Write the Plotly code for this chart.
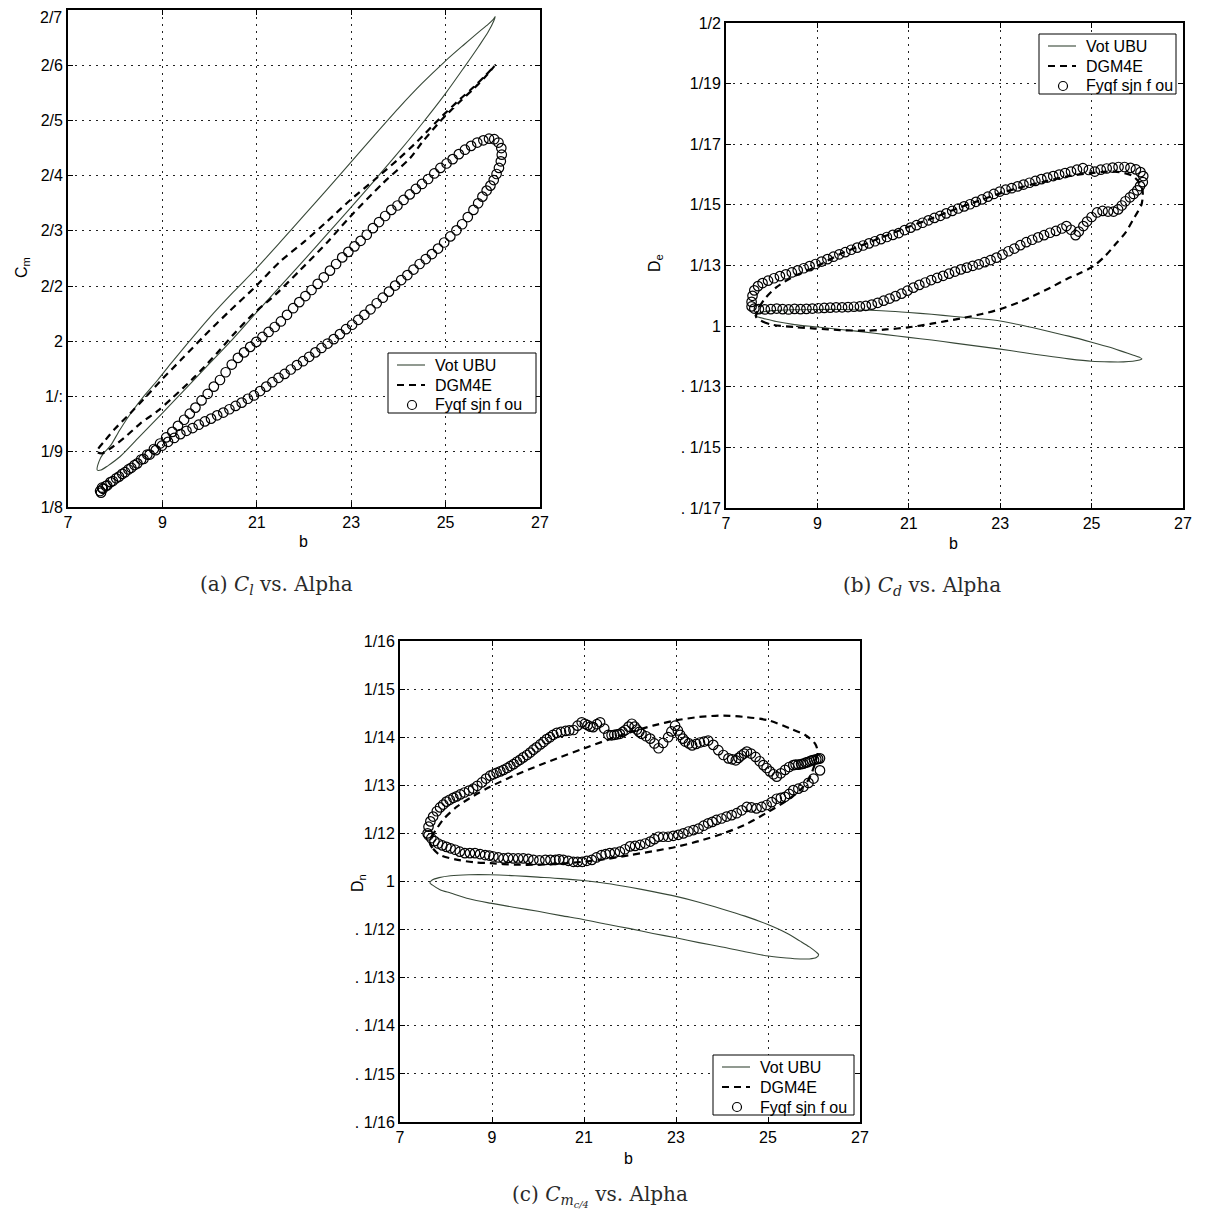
import plotly.graph_objects as go

W, H = 1205, 1221          # page (browser window) size in pixels
BODY = 8                   # default page margin around the figure
FW, FH = W - 2 * BODY, H - 2 * BODY

# ---------------- tick labels (as printed on the figure) ----------------
x_tickvals = [6, 8, 10, 12, 14, 16]
x_ticktext = ["7", "9", "21", "23", "25", "27"]

a_ytickvals = [0.7, 0.8, 0.9, 1.0, 1.1, 1.2, 1.3, 1.4, 1.5, 1.6]
a_yticktext = ["1/8", "1/9", "1/:", "2", "2/2", "2/3", "2/4", "2/5", "2/6", "2/7"]

b_ytickvals = [-0.06, -0.04, -0.02, 0.0, 0.02, 0.04, 0.06, 0.08, 0.10]
b_yticktext = [". 1/17", ". 1/15", ". 1/13", "1", "1/13", "1/15", "1/17", "1/19", "1/2"]

c_ytickvals = [-0.05, -0.04, -0.03, -0.02, -0.01, 0.0, 0.01, 0.02, 0.03, 0.04, 0.05]
c_yticktext = [". 1/16", ". 1/15", ". 1/14", ". 1/13", ". 1/12", "1",
               "1/12", "1/13", "1/14", "1/15", "1/16"]

series_names = ["Vot UBU", "DGM4E", "Fyqf sjn f ou"]
captions = ["(a) <i>C<sub>l</sub></i> vs. Alpha",
            "(b) <i>C<sub>d</sub></i> vs. Alpha",
            "(c) <i>C<sub>m<sub>c/4</sub></sub></i> vs. Alpha"]
x_title = "b"
y_titles = ["C<sub>m</sub>", "D<sub>e</sub>", "D<sub>n</sub>"]

# ---------------- panel (a) ----------------
a_theory_alpha = [6.62, 6.66, 6.75, 6.90, 7.10, 7.35, 7.60, 7.90, 8.20, 8.55, 9.00, 9.50, 10.0, 10.5,
                  11.0, 11.5, 12.0, 12.5, 13.0, 13.5, 14.0, 14.4, 14.7, 14.9, 15.0, 15.05,
                  15.02, 14.9, 14.7, 14.4, 14.0, 13.5, 13.0, 12.5, 12.0, 11.5, 11.0, 10.5, 10.0,
                  9.5, 9.0, 8.5, 8.0, 7.5, 7.1, 6.85, 6.7, 6.62]
a_theory_cl = [0.767, 0.783, 0.797, 0.811, 0.840, 0.872, 0.900, 0.930, 0.962, 0.998, 1.043, 1.089, 1.133, 1.180,
               1.228, 1.276, 1.325, 1.374, 1.422, 1.467, 1.508, 1.538, 1.560, 1.574, 1.582, 1.588,
               1.580, 1.560, 1.534, 1.497, 1.449, 1.394, 1.342, 1.292, 1.243, 1.195, 1.147, 1.100, 1.053,
               1.005, 0.960, 0.915, 0.870, 0.826, 0.791, 0.775, 0.767, 0.767]

a_cfd_alpha = [6.61, 6.8, 7.0, 7.3, 7.6, 8.0, 8.4, 8.9, 9.4, 9.96, 10.5, 11.0, 11.5, 11.97, 12.5, 13.0,
               13.4, 13.88, 14.3, 14.59, 14.85, 15.05,
               14.85, 14.59, 14.3, 13.88, 13.5, 13.25, 12.68, 11.97, 11.5, 10.92, 10.4, 9.93, 9.5, 9.15,
               8.7, 8.23, 7.9, 7.53, 7.2, 6.9, 6.72, 6.61]
a_cfd_cl = [0.800, 0.822, 0.842, 0.868, 0.895, 0.932, 0.967, 1.011, 1.053, 1.098, 1.145, 1.180, 1.218, 1.255, 1.293, 1.330,
            1.362, 1.404, 1.438, 1.460, 1.482, 1.500,
            1.480, 1.457, 1.434, 1.398, 1.360, 1.332, 1.287, 1.225, 1.180, 1.129, 1.085, 1.050, 1.012, 0.978,
            0.937, 0.899, 0.874, 0.851, 0.826, 0.806, 0.797, 0.800]

a_exp_alpha_up = [6.68, 6.72, 6.80, 6.90, 7.02, 7.15, 7.28, 7.41, 7.55, 7.68, 7.82, 7.95, 8.08, 8.21, 8.33,
                  8.46, 8.58, 8.70, 8.83, 8.96, 9.09, 9.22, 9.34, 9.47, 9.60, 9.73, 9.86, 9.99, 10.12, 10.25,
                  10.38, 10.51, 10.64, 10.77, 10.90, 11.03, 11.16, 11.29, 11.42, 11.55, 11.68, 11.81, 11.94,
                  12.07, 12.20, 12.33, 12.46, 12.59, 12.72, 12.85, 12.98, 13.11, 13.24, 13.37, 13.50, 13.63,
                  13.76, 13.89, 14.02, 14.15, 14.28, 14.41, 14.54, 14.67, 14.80, 14.92, 15.03, 15.12, 15.18]
a_exp_cl_up = [0.729, 0.735, 0.738, 0.745, 0.752, 0.760, 0.768, 0.776, 0.786, 0.795, 0.805, 0.815, 0.826, 0.836, 0.847,
               0.858, 0.869, 0.880, 0.893, 0.905, 0.918, 0.930, 0.944, 0.958, 0.970, 0.980, 0.990, 0.999, 1.008, 1.017,
               1.026, 1.036, 1.048, 1.060, 1.071, 1.082, 1.093, 1.104, 1.116, 1.128, 1.140, 1.152, 1.162,
               1.172, 1.182, 1.193, 1.205, 1.216, 1.227, 1.238, 1.246, 1.256, 1.266, 1.276, 1.285, 1.294,
               1.304, 1.314, 1.322, 1.330, 1.339, 1.347, 1.354, 1.360, 1.364, 1.367, 1.366, 1.360, 1.350]
a_exp_alpha_down = [15.19, 15.17, 15.13, 15.08, 15.02, 14.95, 14.87, 14.78, 14.69, 14.59, 14.47, 14.35, 14.23,
                    14.10, 13.97, 13.84, 13.71, 13.58, 13.45, 13.32, 13.19, 13.06, 12.93, 12.80, 12.67, 12.54,
                    12.41, 12.28, 12.15, 12.02, 11.89, 11.76, 11.63, 11.50, 11.37, 11.24, 11.11, 10.98, 10.85,
                    10.72, 10.59, 10.46, 10.33, 10.20, 10.07, 9.94, 9.81, 9.68, 9.55, 9.42, 9.29, 9.16, 9.03,
                    8.90, 8.77, 8.64, 8.51, 8.38, 8.25, 8.12, 7.99, 7.86, 7.73, 7.60, 7.47, 7.34, 7.21, 7.08,
                    6.95, 6.83, 6.74, 6.70]
a_exp_cl_down = [1.338, 1.326, 1.314, 1.303, 1.292, 1.282, 1.273, 1.262, 1.250, 1.238, 1.225, 1.212, 1.201,
                 1.190, 1.179, 1.168, 1.158, 1.149, 1.140, 1.130, 1.120, 1.111, 1.101, 1.090, 1.079, 1.069,
                 1.058, 1.048, 1.039, 1.030, 1.022, 1.013, 1.004, 0.996, 0.988, 0.980, 0.972, 0.964, 0.957,
                 0.949, 0.941, 0.934, 0.926, 0.918, 0.910, 0.902, 0.896, 0.889, 0.883, 0.877, 0.871, 0.866, 0.860,
                 0.855, 0.849, 0.843, 0.838, 0.832, 0.825, 0.818, 0.811, 0.803, 0.795, 0.787, 0.779, 0.771, 0.763, 0.755,
                 0.747, 0.739, 0.733, 0.726]

# ---------------- panel (b) ----------------
b_theory_alpha = [6.63, 6.75, 7.0, 7.5, 8.0, 8.5, 9.0, 9.5, 10.0, 10.5, 11.0, 11.5, 12.0, 12.5, 13.0, 13.5,
                  14.0, 14.4, 14.7, 14.9, 15.05, 15.1,
                  15.05, 14.9, 14.7, 14.4, 14.0, 13.5, 13.0, 12.5, 12.0, 11.5, 11.0, 10.5, 10.0, 9.5, 9.0,
                  8.5, 8.0, 7.5, 7.1, 6.85, 6.7, 6.63]
b_theory_cd = [0.0034, 0.0045, 0.0051, 0.0054, 0.0055, 0.0055, 0.0053, 0.0050, 0.0045, 0.0039, 0.0032, 0.0025,
               0.0017, 0.0002, -0.0015, -0.0033, -0.0053, -0.0070, -0.0085, -0.0095, -0.0103, -0.0108,
               -0.0112, -0.0116, -0.0118, -0.0118, -0.0116, -0.0108, -0.0098, -0.0087, -0.0076, -0.0066,
               -0.0056, -0.0046, -0.0037, -0.0028, -0.0019, -0.0011, -0.0003, 0.0005, 0.0015, 0.0024, 0.0030, 0.0034]

b_cfd_alpha = [6.66, 6.8, 7.0, 7.5, 7.95, 8.5, 9.08, 9.5, 9.99, 10.5, 11.12, 11.6, 12.0, 12.4, 12.73, 13.1,
               13.45, 13.75, 14.04, 14.3, 14.55, 14.75, 14.91, 15.02, 15.09, 15.12,
               15.1, 14.9, 14.5, 14.0, 13.5, 13.0, 12.5, 12.0, 11.5, 11.0, 10.5, 10.0, 9.5, 9.0, 8.5, 8.0,
               7.5, 7.1, 6.85, 6.7, 6.66]
b_cfd_cd = [0.0030, 0.0015, 0.0005, -0.0003, -0.0008, -0.0013, -0.0015, -0.0011, -0.0004, 0.0008, 0.0025,
            0.0040, 0.0056, 0.0078, 0.0100, 0.0127, 0.0155, 0.0175, 0.0198, 0.0232, 0.0275, 0.0310, 0.0352,
            0.0380, 0.0400, 0.0430,
            0.0460, 0.0495, 0.0510, 0.0505, 0.0495, 0.0478, 0.0460, 0.0438, 0.0412, 0.0385, 0.0355, 0.0328,
            0.0298, 0.0268, 0.0238, 0.0198, 0.0165, 0.0128, 0.0090, 0.0055, 0.0030]

b_exp_alpha_up = [6.56, 6.58, 6.62, 6.70, 6.80, 6.92, 7.05, 7.18, 7.31, 7.44, 7.57, 7.70, 7.83, 7.96, 8.09,
                  8.22, 8.35, 8.48, 8.61, 8.74, 8.87, 9.00, 9.13, 9.26, 9.39, 9.52, 9.65, 9.78, 9.91, 10.04,
                  10.17, 10.30, 10.43, 10.56, 10.69, 10.82, 10.95, 11.08, 11.21, 11.34, 11.47, 11.60, 11.73,
                  11.86, 11.99, 12.12, 12.25, 12.38, 12.51, 12.64, 12.77, 12.90, 13.03, 13.16, 13.29, 13.42,
                  13.55, 13.68, 13.81, 13.94, 14.07, 14.20, 14.33, 14.46, 14.59, 14.72, 14.85, 14.97, 15.07, 15.13]
b_exp_cd_up = [0.0080, 0.0100, 0.0118, 0.0132, 0.0142, 0.0150, 0.0158, 0.0165, 0.0171, 0.0177, 0.0184, 0.0191,
               0.0198, 0.0205, 0.0213, 0.0221, 0.0229, 0.0237, 0.0244, 0.0252, 0.0259, 0.0266, 0.0273, 0.0280,
               0.0287, 0.0294, 0.0301, 0.0307, 0.0317, 0.0325, 0.0333, 0.0341, 0.0349, 0.0357, 0.0364, 0.0372,
               0.0380, 0.0388, 0.0395, 0.0402, 0.0410, 0.0418, 0.0427, 0.0436, 0.0444, 0.0450, 0.0455, 0.0461,
               0.0467, 0.0473, 0.0479, 0.0485, 0.0490, 0.0495, 0.0500, 0.0505, 0.0510, 0.0516, 0.0521, 0.0515,
               0.0510, 0.0516, 0.0520, 0.0523, 0.0525, 0.0525, 0.0522, 0.0517, 0.0508, 0.0495]
b_exp_alpha_down = [15.12, 15.06, 15.00, 14.92, 14.84, 14.74, 14.66, 14.58, 14.48, 14.36, 14.24, 14.12, 14.00,
                    13.90, 13.82, 13.72, 13.65, 13.55, 13.45, 13.35, 13.22, 13.09, 12.96, 12.83, 12.70, 12.57,
                    12.44, 12.31, 12.18, 12.05, 11.92, 11.79, 11.66, 11.53, 11.40, 11.27, 11.14, 11.01, 10.88,
                    10.75, 10.62, 10.49, 10.36, 10.23, 10.10, 9.97, 9.84, 9.71, 9.58, 9.45, 9.32, 9.19, 9.06,
                    8.93, 8.80, 8.67, 8.54, 8.41, 8.28, 8.15, 8.02, 7.89, 7.76, 7.63, 7.50, 7.37, 7.24, 7.11,
                    6.98, 6.85, 6.72, 6.62, 6.56]
b_exp_cd_down = [0.0475, 0.0462, 0.0448, 0.0436, 0.0425, 0.0412, 0.0398, 0.0385, 0.0378, 0.0378, 0.0380, 0.0375,
                 0.0360, 0.0345, 0.0330, 0.0312, 0.0300, 0.0318, 0.0330, 0.0322, 0.0314, 0.0308, 0.0300, 0.0293,
                 0.0285, 0.0277, 0.0267, 0.0256, 0.0247, 0.0236, 0.0226, 0.0218, 0.0211, 0.0204, 0.0199, 0.0193,
                 0.0187, 0.0180, 0.0173, 0.0166, 0.0159, 0.0152, 0.0144, 0.0136, 0.0127, 0.0117, 0.0107, 0.0099,
                 0.0091, 0.0084, 0.0077, 0.0071, 0.0067, 0.0065, 0.0064, 0.0063, 0.0062, 0.0062, 0.0061, 0.0060,
                 0.0059, 0.0058, 0.0057, 0.0056, 0.0057, 0.0055, 0.0056, 0.0058, 0.0056, 0.0055, 0.0056, 0.0058, 0.0065]

# ---------------- panel (c) ----------------
c_theory_alpha = [6.65, 6.7, 6.85, 7.1, 7.5, 7.96, 8.5, 9.0, 9.5, 9.98, 10.5, 11.0, 11.5, 12.0, 12.5, 13.0,
                  13.5, 14.01, 14.4, 14.7, 14.9, 15.05, 15.1,
                  15.05, 14.9, 14.7, 14.4, 14.01, 13.5, 13.0, 12.5, 12.0, 11.5, 11.0, 10.5, 9.98, 9.5, 9.0,
                  8.5, 7.96, 7.5, 7.1, 6.87, 6.7, 6.65]
c_theory_cm = [-0.0003, 0.0003, 0.0008, 0.0012, 0.0014, 0.0014, 0.0012, 0.0009, 0.0006, 0.0002, -0.0004,
               -0.0012, -0.0021, -0.0031, -0.0043, -0.0057, -0.0072, -0.0090, -0.0107, -0.0124, -0.0136,
               -0.0147, -0.0152,
               -0.0158, -0.0161, -0.0161, -0.0159, -0.0155, -0.0146, -0.0136, -0.0127, -0.0117, -0.0108,
               -0.0098, -0.0089, -0.0079, -0.0071, -0.0062, -0.0054, -0.0045, -0.0036, -0.0024, -0.0017,
               -0.0007, -0.0003]

c_cfd_alpha = [6.65, 6.72, 6.87, 7.2, 7.6, 7.96, 8.5, 9.04, 9.5, 9.98, 10.5, 11.0, 11.5, 12.0, 12.5, 13.03,
               13.5, 14.01, 14.4, 14.7, 14.9, 15.02, 15.08, 15.02,
               14.8, 14.48, 14.01, 13.5, 13.03, 12.5, 12.0, 11.5, 11.0, 10.5, 9.98, 9.5, 9.04, 8.5, 7.96,
               7.6, 7.23, 6.95, 6.8, 6.68, 6.65]
c_cfd_cm = [0.0079, 0.0068, 0.0055, 0.0046, 0.0040, 0.0038, 0.0035, 0.0035, 0.0037, 0.0041, 0.0047, 0.0055,
            0.0063, 0.0072, 0.0084, 0.0100, 0.0118, 0.0145, 0.0168, 0.0190, 0.0215, 0.0245, 0.0270, 0.0287,
            0.0305, 0.0318, 0.0335, 0.0342, 0.0345, 0.0342, 0.0335, 0.0324, 0.0310, 0.0294, 0.0276, 0.0259,
            0.0242, 0.0221, 0.0197, 0.0178, 0.0155, 0.0130, 0.0110, 0.0092, 0.0079]

c_exp_alpha_up = [6.62, 6.66, 6.72, 6.80, 6.87, 6.94, 7.01, 7.08, 7.16, 7.23,
                  7.31, 7.40, 7.50, 7.59, 7.68, 7.78, 7.87, 7.96, 8.03, 8.10,
                  8.18, 8.25, 8.33, 8.40, 8.47, 8.54, 8.61, 8.68, 8.76, 8.83,
                  8.90, 8.97, 9.05, 9.12, 9.19, 9.26, 9.33, 9.41, 9.50, 9.60,
                  9.68, 9.77, 9.86, 9.95, 10.02, 10.08, 10.14, 10.20, 10.28, 10.35,
                  10.44, 10.53, 10.60, 10.66, 10.72, 10.78, 10.84, 10.90, 10.97, 11.04,
                  11.10, 11.15, 11.20, 11.25, 11.35, 11.44, 11.53, 11.62, 11.72, 11.83,
                  11.90, 11.98, 12.04, 12.09, 12.15, 12.20, 12.28, 12.35, 12.44, 12.52,
                  12.61, 12.70, 12.81, 12.92, 13.03, 13.14, 13.22, 13.30, 13.36, 13.42,
                  13.48, 13.54, 13.63, 13.73, 13.82, 13.90, 13.97, 14.04, 14.12, 14.19,
                  14.28, 14.37, 14.46, 14.55, 14.60, 14.66, 14.72, 14.77, 14.82, 14.86,
                  14.91, 14.95, 15.00, 15.05, 15.09, 15.13]
c_exp_cm_up = [0.0114, 0.0125, 0.0135, 0.0146, 0.0154, 0.0160, 0.0166, 0.0170, 0.0174, 0.0177,
               0.0181, 0.0185, 0.0189, 0.0193, 0.0199, 0.0206, 0.0214, 0.0220, 0.0223, 0.0226,
               0.0229, 0.0232, 0.0236, 0.0240, 0.0244, 0.0249, 0.0253, 0.0258, 0.0263, 0.0268,
               0.0274, 0.0279, 0.0285, 0.0290, 0.0296, 0.0300, 0.0305, 0.0309, 0.0311, 0.0313,
               0.0314, 0.0315, 0.0324, 0.0331, 0.0328, 0.0325, 0.0322, 0.0321, 0.0327, 0.0331,
               0.0318, 0.0305, 0.0304, 0.0305, 0.0306, 0.0307, 0.0311, 0.0315, 0.0322, 0.0328,
               0.0322, 0.0316, 0.0311, 0.0307, 0.0302, 0.0297, 0.0287, 0.0277, 0.0288, 0.0300,
               0.0312, 0.0324, 0.0314, 0.0305, 0.0297, 0.0291, 0.0287, 0.0283, 0.0286, 0.0289,
               0.0291, 0.0293, 0.0284, 0.0273, 0.0263, 0.0256, 0.0254, 0.0252, 0.0257, 0.0262,
               0.0266, 0.0270, 0.0266, 0.0259, 0.0250, 0.0242, 0.0236, 0.0229, 0.0223, 0.0218,
               0.0225, 0.0232, 0.0238, 0.0242, 0.0243, 0.0243, 0.0244, 0.0245, 0.0247, 0.0248,
               0.0250, 0.0252, 0.0253, 0.0254, 0.0255, 0.0256]
c_exp_alpha_down = [15.13, 14.99, 14.88, 14.77, 14.66, 14.55, 14.46, 14.37, 14.28, 14.19, 14.08, 13.97, 13.86,
                    13.75, 13.64, 13.54, 13.43, 13.32, 13.21, 13.10, 12.99, 12.88, 12.79, 12.70, 12.60, 12.49,
                    12.38, 12.27, 12.16, 12.05, 11.94, 11.83, 11.72, 11.62, 11.53, 11.44, 11.33, 11.22, 11.11,
                    11.00, 10.89, 10.78, 10.67, 10.56, 10.47, 10.38, 10.27, 10.17, 10.06, 9.96, 9.86, 9.77,
                    9.66, 9.55, 9.46, 9.38, 9.27, 9.16, 9.03, 8.90, 8.79, 8.68, 8.57, 8.46, 8.35, 8.25, 8.14,
                    8.03, 7.94, 7.85, 7.74, 7.63, 7.52, 7.41, 7.30, 7.20, 7.10, 7.01, 6.92, 6.83, 6.75, 6.68,
                    6.62, 6.60]
c_exp_cm_down = [0.0231, 0.0214, 0.0205, 0.0197, 0.0193, 0.0190, 0.0182, 0.0176, 0.0174, 0.0172, 0.0165,
                 0.0159, 0.0155, 0.0152, 0.0154, 0.0155, 0.0148, 0.0142, 0.0138, 0.0135, 0.0131, 0.0128,
                 0.0124, 0.0121, 0.0116, 0.0110, 0.0107, 0.0104, 0.0100, 0.0097, 0.0095, 0.0093, 0.0093,
                 0.0093, 0.0088, 0.0083, 0.0079, 0.0076, 0.0074, 0.0073, 0.0067, 0.0062, 0.0060, 0.0059,
                 0.0057, 0.0055, 0.0050, 0.0045, 0.0043, 0.0041, 0.0041, 0.0041, 0.0043, 0.0045, 0.0046,
                 0.0045, 0.0045, 0.0045, 0.0044, 0.0045, 0.0047, 0.0048, 0.0048, 0.0048, 0.0049, 0.0048,
                 0.0050, 0.0052, 0.0054, 0.0055, 0.0057, 0.0059, 0.0059, 0.0059, 0.0062, 0.0066, 0.0069,
                 0.0072, 0.0075, 0.0079, 0.0084, 0.0090, 0.0096, 0.0100]

pairs = [(a_theory_alpha, a_theory_cl), (a_cfd_alpha, a_cfd_cl), (a_exp_alpha_up, a_exp_cl_up),
         (a_exp_alpha_down, a_exp_cl_down), (b_theory_alpha, b_theory_cd), (b_cfd_alpha, b_cfd_cd),
         (b_exp_alpha_up, b_exp_cd_up), (b_exp_alpha_down, b_exp_cd_down), (c_theory_alpha, c_theory_cm),
         (c_cfd_alpha, c_cfd_cm), (c_exp_alpha_up, c_exp_cm_up), (c_exp_alpha_down, c_exp_cm_down)]
for i, (xs, ys) in enumerate(pairs):
    assert len(xs) == len(ys), (i, len(xs), len(ys))

# ---------------- layout geometry (page pixels -> paper fractions) ----------------
def px(x):
    return (x - BODY) / FW

def py(y):
    return 1 - (y - BODY) / FH

# the topmost label of panel (a) sits at the very edge of the page; it is drawn
# as a separate text just inside the page so it is not clipped
a_top_label = a_yticktext[-1]
a_axis_ticktext = a_yticktext[:-1] + [""]

panels = [
    dict(xd=[px(68), px(540)], yd=[py(507), py(10)], yr=[0.7, 1.6], yv=a_ytickvals, yt=a_axis_ticktext,
         theory=(a_theory_alpha, a_theory_cl), cfd=(a_cfd_alpha, a_cfd_cl),
         exp=(a_exp_alpha_up + a_exp_alpha_down, a_exp_cl_up + a_exp_cl_down),
         legend=(388, 353, 148), xlab=(303, 541), ylab=(22, 268), cap=(276, 585)),
    dict(xd=[px(726), px(1183)], yd=[py(508), py(23)], yr=[-0.06, 0.10], yv=b_ytickvals, yt=b_yticktext,
         theory=(b_theory_alpha, b_theory_cd), cfd=(b_cfd_alpha, b_cfd_cd),
         exp=(b_exp_alpha_up + b_exp_alpha_down, b_exp_cd_up + b_exp_cd_down),
         legend=(1039, 34, 137), xlab=(953, 543), ylab=(655, 263), cap=(922, 586)),
    dict(xd=[px(400), px(860)], yd=[py(1122), py(641)], yr=[-0.05, 0.05], yv=c_ytickvals, yt=c_yticktext,
         theory=(c_theory_alpha, c_theory_cm), cfd=(c_cfd_alpha, c_cfd_cm),
         exp=(c_exp_alpha_up + c_exp_alpha_down, c_exp_cm_up + c_exp_cm_down),
         legend=(713, 1055, 141), xlab=(628, 1158), ylab=(358, 883), cap=(600, 1196)),
]

SANS = "Liberation Sans, Arial, sans-serif"
TICKFONT = dict(family=SANS, size=16, color="black")
THEORY_COLOR = "#384838"
axis_common = dict(showline=True, linecolor="black", linewidth=1.8, mirror="allticks",
                   ticks="inside", ticklen=5, tickwidth=1, tickcolor="black",
                   showgrid=True, gridcolor="#222222", gridwidth=1.1, griddash="1.5px,5.5px",
                   zeroline=False, tickfont=TICKFONT, fixedrange=True, automargin=False,
                   ticklabeloverflow="allow")

fig = go.Figure()
layout = dict(width=FW, height=FH, margin=dict(l=0, r=0, t=0, b=0, autoexpand=False),
              paper_bgcolor="white", plot_bgcolor="white", showlegend=False)
annotations = []
shapes = []

for i, p in enumerate(panels):
    n = "" if i == 0 else str(i + 1)
    xa, ya = "x" + n, "y" + n
    layout["xaxis" + n] = dict(domain=p["xd"], range=[6, 16], anchor=ya,
                               tickvals=x_tickvals, ticktext=x_ticktext, **axis_common)
    layout["yaxis" + n] = dict(domain=p["yd"], range=p["yr"], anchor=xa,
                               tickvals=p["yv"], ticktext=p["yt"], **axis_common)

    fig.add_trace(go.Scatter(x=p["theory"][0], y=p["theory"][1], mode="lines", name=series_names[0],
                             line=dict(color=THEORY_COLOR, width=1.1, shape="spline", smoothing=0.8),
                             xaxis=xa, yaxis=ya))
    fig.add_trace(go.Scatter(x=p["cfd"][0], y=p["cfd"][1], mode="lines", name=series_names[1],
                             line=dict(color="black", width=2.2, dash="7px,5px", shape="spline", smoothing=0.8),
                             xaxis=xa, yaxis=ya))
    fig.add_trace(go.Scatter(x=p["exp"][0], y=p["exp"][1], mode="markers", name=series_names[2],
                             marker=dict(symbol="circle-open", size=9.5, color="black",
                                         line=dict(width=1.2, color="black")),
                             xaxis=xa, yaxis=ya))

    # legend box drawn like the original MATLAB legend
    lx, ly, lw = p["legend"]
    lh = 60
    shapes.append(dict(type="rect", xref="paper", yref="paper", x0=px(lx), x1=px(lx + lw),
                       y0=py(ly + lh), y1=py(ly), line=dict(color="black", width=1), fillcolor="white",
                       layer="above"))
    rows = [ly + 12, ly + 32, ly + 52]
    shapes.append(dict(type="line", xref="paper", yref="paper", x0=px(lx + 9), x1=px(lx + 37),
                       y0=py(rows[0]), y1=py(rows[0]), line=dict(color=THEORY_COLOR, width=1.1),
                       layer="above"))
    shapes.append(dict(type="line", xref="paper", yref="paper", x0=px(lx + 9), x1=px(lx + 37),
                       y0=py(rows[1]), y1=py(rows[1]), line=dict(color="black", width=2.2, dash="7px,5px"),
                       layer="above"))
    shapes.append(dict(type="circle", xref="paper", yref="paper", x0=px(lx + 19.5), x1=px(lx + 28.5),
                       y0=py(rows[2] + 4.5), y1=py(rows[2] - 4.5), line=dict(color="black", width=1.2),
                       layer="above"))
    for k in range(3):
        annotations.append(dict(x=px(lx + 45), y=py(rows[k]), xref="paper", yref="paper",
                                text=series_names[k], showarrow=False, xanchor="left", yanchor="middle",
                                font=dict(family=SANS, size=16, color="black")))

    xl = p["xlab"]
    annotations.append(dict(x=px(xl[0]), y=py(xl[1]), xref="paper", yref="paper",
                            text=x_title, showarrow=False, xanchor="center", yanchor="middle",
                            font=dict(family=SANS, size=16, color="black")))
    yl = p["ylab"]
    annotations.append(dict(x=px(yl[0]), y=py(yl[1]), xref="paper", yref="paper",
                            text=y_titles[i], showarrow=False, textangle=-90,
                            xanchor="center", yanchor="middle",
                            font=dict(family=SANS, size=16, color="black")))
    cp = p["cap"]
    annotations.append(dict(x=px(cp[0]), y=py(cp[1]), xref="paper", yref="paper",
                            text=captions[i], showarrow=False, xanchor="center", yanchor="middle",
                            font=dict(family="DejaVu Serif, serif", size=20, color="#2a2a2a")))

annotations.append(dict(x=px(63), y=py(8), xref="paper", yref="paper", text=a_top_label,
                        showarrow=False, xanchor="right", yanchor="top", borderpad=0,
                        font=dict(family=SANS, size=16, color="black")))

layout["annotations"] = annotations
layout["shapes"] = shapes
fig.update_layout(**layout)
fig.write_html("out.html")
